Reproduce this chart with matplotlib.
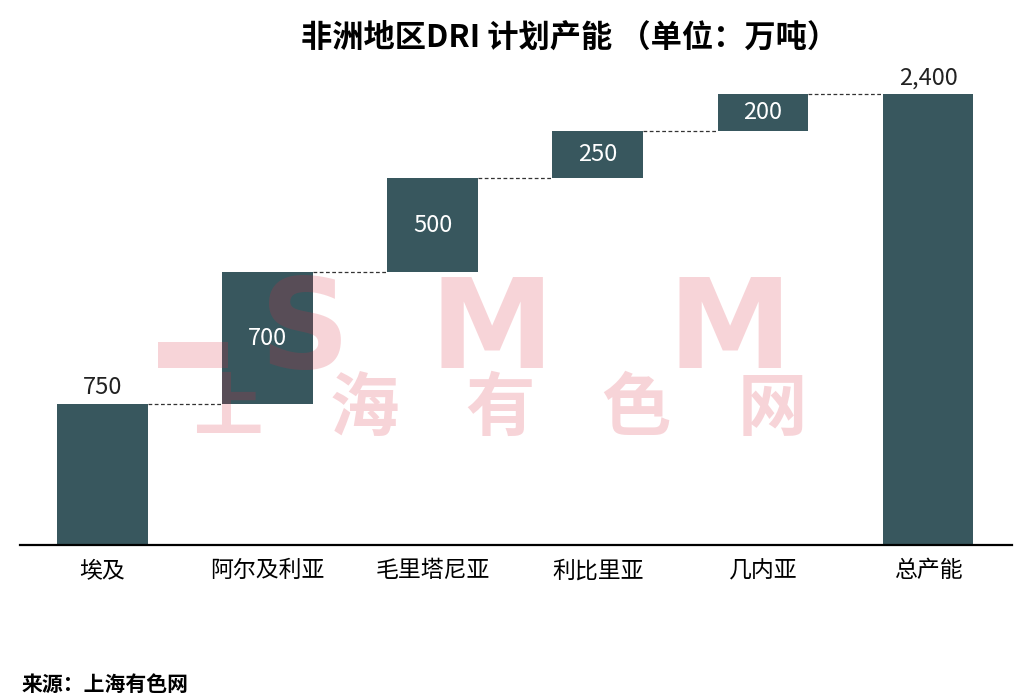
import matplotlib.pyplot as plt
from matplotlib.patches import Rectangle

plt.rcParams['font.family'] = ['Noto Sans CJK SC', 'DejaVu Sans']

# 数据
categories = ['埃及', '阿尔及利亚', '毛里塔尼亚', '利比里亚', '几内亚', '总产能']
increments = [750, 700, 500, 250, 200]
total = sum(increments)
values = increments + [total]
value_labels = ['750', '700', '500', '250', '200', '2,400']

bar_color = '#38575E'

# 每根柱子的底部
bottoms = []
running = 0
for v in increments:
    bottoms.append(running)
    running += v
bottoms.append(0)

fig = plt.figure(figsize=(10.24, 6.99), dpi=100)
ax = fig.add_axes([0.0195, 0.22, 0.969, 0.6996])

x = list(range(len(categories)))
width = 0.55
ax.bar(x, values, bottom=bottoms, width=width, color=bar_color, zorder=2)

# 连接虚线
for i in range(len(categories) - 1):
    level = bottoms[i] + values[i]
    ax.plot([i + width / 2, i + 1 - width / 2], [level, level],
            ls=(0, (3, 2)), color='#333333', lw=0.9, zorder=1)

# 数值标签
for i, (v, b, lab) in enumerate(zip(values, bottoms, value_labels)):
    if i == 0 or i == len(values) - 1:
        ax.text(i, b + v + 25, lab, ha='center', va='bottom', fontsize=17, color='#222222')
    else:
        ax.text(i, b + v / 2, lab, ha='center', va='center', fontsize=17, color='white', zorder=3)

ax.set_xlim(-0.5, 5.51)
ax.set_ylim(0, 2600)
ax.set_xticks(x)
ax.set_xticklabels(categories, fontsize=16.5)
ax.tick_params(axis='x', length=0, pad=10)
ax.set_yticks([])
for s in ['top', 'right', 'left']:
    ax.spines[s].set_visible(False)
ax.spines['bottom'].set_linewidth(1.6)
ax.spines['bottom'].set_color('black')

# 水印
wm_color = (0.86, 0.16, 0.24)
wm_alpha = 0.2
fig.patches.append(Rectangle((158 / 1024, 1 - 368 / 699), 70 / 1024, 26 / 699,
                             transform=fig.transFigure, color=wm_color, alpha=wm_alpha,
                             lw=0, zorder=5))
for ch, cx in zip(['S', 'M', 'M'], [305, 492, 730]):
    fig.text(cx / 1024, 1 - 368 / 699, ch, ha='center', va='baseline', fontsize=90,
             fontweight='heavy', color=wm_color, alpha=wm_alpha, zorder=5,
             family='DejaVu Sans')
for ch, cx in zip('上海有色网', [228, 364, 500, 636, 772]):
    fig.text(cx / 1024, 1 - 410 / 699, ch, ha='center', va='center', fontsize=50,
             fontweight='heavy', color=wm_color, alpha=wm_alpha, zorder=5)

fig.text(570 / 1024, 1 - 38 / 699, '非洲地区DRI 计划产能 （单位：万吨）',
         ha='center', va='center', fontsize=22.5, fontweight='bold')
fig.text(22 / 1024, 1 - 684 / 699, '来源：上海有色网', ha='left', va='center',
         fontsize=15, fontweight='bold')

fig.savefig('out.png', dpi=100)
